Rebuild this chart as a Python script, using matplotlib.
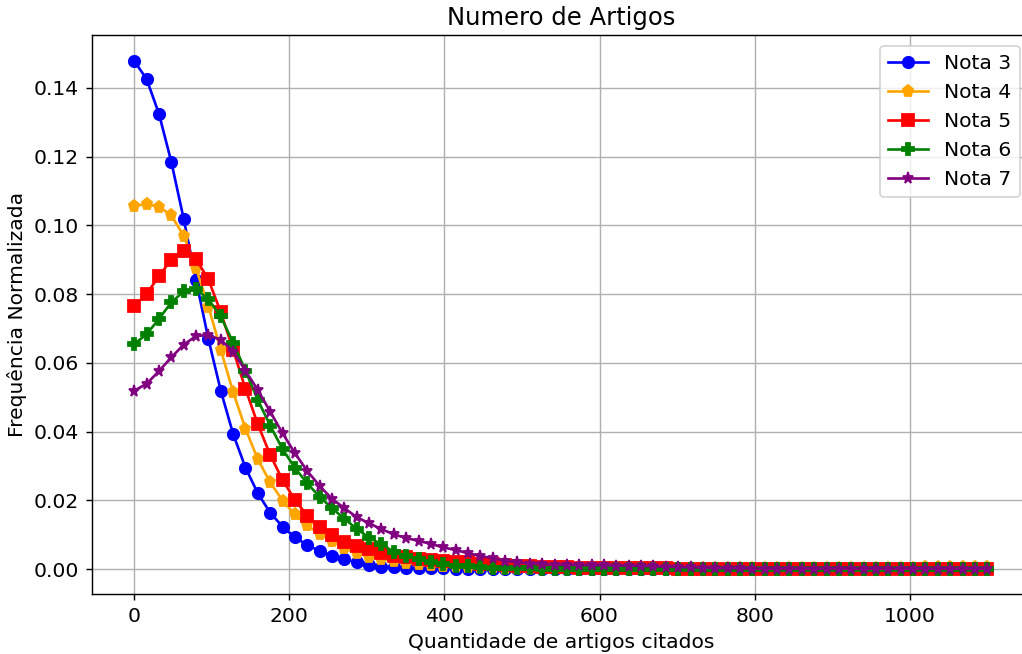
import numpy as np
import matplotlib
matplotlib.use("Agg")
import matplotlib.pyplot as plt

# quantidade de artigos citados (eixo x)
artigos = np.linspace(0, 1100, 70)

nota3 = [0.1479, 0.1426, 0.1325, 0.1185, 0.1019, 0.0841, 0.0669, 0.0519, 0.0393, 0.0295,
         0.0220, 0.0164, 0.0123, 0.0092, 0.0070, 0.0052, 0.0039, 0.0029, 0.0019, 0.0012,
         0.0007, 0.0005, 0.0004, 0.0003, 0.0002, 0.0002, 0.0001, 0.0001, 0.0001, 0.0000,
         0.0000, 0.0000, 0.0000, 0.0000, 0.0000, 0.0000, 0.0000, 0.0000, 0.0000, 0.0000,
         0.0000, 0.0000, 0.0000, 0.0000, 0.0000, 0.0000, 0.0000, 0.0000, 0.0000, 0.0000,
         0.0000, 0.0000, 0.0000, 0.0000, 0.0000, 0.0000, 0.0000, 0.0000, 0.0000, 0.0000,
         0.0000, 0.0000, 0.0000, 0.0000, 0.0000, 0.0000, 0.0000, 0.0000, 0.0000, 0.0000]

nota4 = [0.1058, 0.1061, 0.1055, 0.1029, 0.0970, 0.0876, 0.0764, 0.0638, 0.0515, 0.0408,
         0.0319, 0.0252, 0.0199, 0.0159, 0.0127, 0.0101, 0.0082, 0.0060, 0.0046, 0.0036,
         0.0029, 0.0023, 0.0018, 0.0014, 0.0012, 0.0010, 0.0008, 0.0007, 0.0006, 0.0005,
         0.0004, 0.0004, 0.0003, 0.0003, 0.0003, 0.0002, 0.0002, 0.0002, 0.0002, 0.0002,
         0.0002, 0.0002, 0.0002, 0.0002, 0.0002, 0.0002, 0.0002, 0.0002, 0.0002, 0.0002,
         0.0002, 0.0002, 0.0002, 0.0002, 0.0002, 0.0002, 0.0002, 0.0003, 0.0003, 0.0003,
         0.0003, 0.0004, 0.0004, 0.0004, 0.0005, 0.0005, 0.0005, 0.0005, 0.0005, 0.0005]

nota5 = [0.0766, 0.0800, 0.0853, 0.0900, 0.0925, 0.0902, 0.0843, 0.0747, 0.0638, 0.0524,
         0.0421, 0.0332, 0.0259, 0.0201, 0.0155, 0.0121, 0.0099, 0.0080, 0.0067, 0.0058,
         0.0046, 0.0039, 0.0034, 0.0029, 0.0026, 0.0023, 0.0021, 0.0019, 0.0016, 0.0014,
         0.0012, 0.0010, 0.0008, 0.0007, 0.0006, 0.0005, 0.0004, 0.0004, 0.0003, 0.0003,
         0.0002, 0.0002, 0.0002, 0.0002, 0.0001, 0.0001, 0.0001, 0.0001, 0.0001, 0.0001,
         0.0001, 0.0001, 0.0001, 0.0001, 0.0001, 0.0001, 0.0001, 0.0001, 0.0001, 0.0001,
         0.0001, 0.0001, 0.0001, 0.0001, 0.0001, 0.0001, 0.0001, 0.0001, 0.0001, 0.0001]

nota6 = [0.0655, 0.0683, 0.0728, 0.0776, 0.0808, 0.0815, 0.0785, 0.0735, 0.0659, 0.0577,
         0.0492, 0.0417, 0.0349, 0.0294, 0.0249, 0.0210, 0.0177, 0.0146, 0.0117, 0.0091,
         0.0072, 0.0050, 0.0038, 0.0028, 0.0020, 0.0014, 0.0010, 0.0008, 0.0006, 0.0004,
         0.0003, 0.0002, 0.0002, 0.0001, 0.0001, 0.0000, 0.0000, 0.0000, 0.0000, 0.0000,
         0.0000, 0.0000, 0.0000, 0.0000, 0.0000, 0.0000, 0.0000, 0.0000, 0.0000, 0.0000,
         0.0000, 0.0000, 0.0000, 0.0000, 0.0000, 0.0000, 0.0000, 0.0000, 0.0000, 0.0000,
         0.0000, 0.0000, 0.0000, 0.0000, 0.0000, 0.0000, 0.0000, 0.0000, 0.0000, 0.0000]

nota7 = [0.0519, 0.0539, 0.0576, 0.0616, 0.0653, 0.0678, 0.0681, 0.0667, 0.0633, 0.0577,
         0.0521, 0.0458, 0.0395, 0.0337, 0.0285, 0.0242, 0.0204, 0.0177, 0.0151, 0.0133,
         0.0116, 0.0101, 0.0090, 0.0082, 0.0073, 0.0063, 0.0055, 0.0046, 0.0038, 0.0031,
         0.0024, 0.0020, 0.0016, 0.0014, 0.0013, 0.0012, 0.0012, 0.0011, 0.0011, 0.0010,
         0.0010, 0.0009, 0.0008, 0.0007, 0.0006, 0.0005, 0.0004, 0.0003, 0.0002, 0.0002,
         0.0001, 0.0001, 0.0001, 0.0001, 0.0001, 0.0001, 0.0001, 0.0001, 0.0001, 0.0001,
         0.0001, 0.0001, 0.0001, 0.0001, 0.0001, 0.0001, 0.0001, 0.0001, 0.0001, 0.0001]

series = [nota3, nota4, nota5, nota6, nota7]
labels = ['Nota 3', 'Nota 4', 'Nota 5', 'Nota 6', 'Nota 7']
cores = ['blue', 'orange', 'red', 'green', 'purple']
marcadores = ['o', 'p', 's', 'P', '*']

plt.rcParams['font.size'] = 11.4
plt.rcParams['lines.markersize'] = 6.4

# figura em dpi 128, eixo passa um pouco da borda direita
fig = plt.figure(figsize=(1022 / 128, 654 / 128), dpi=128)
ax = fig.add_axes([0.0896, 0.0911, 0.9182, 0.8547])

for valores, nome, cor, m in zip(series, labels, cores, marcadores):
    ax.plot(artigos, valores, marker=m, color=cor, label=nome)

ax.set_xlim(-55, 1155)
ax.set_title('Numero de Artigos')
ax.set_xlabel('Quantidade de artigos citados')
ax.set_ylabel('Frequência Normalizada')
ax.grid(True)
ax.legend(loc='upper right')

fig.savefig('out.png', dpi=128)
